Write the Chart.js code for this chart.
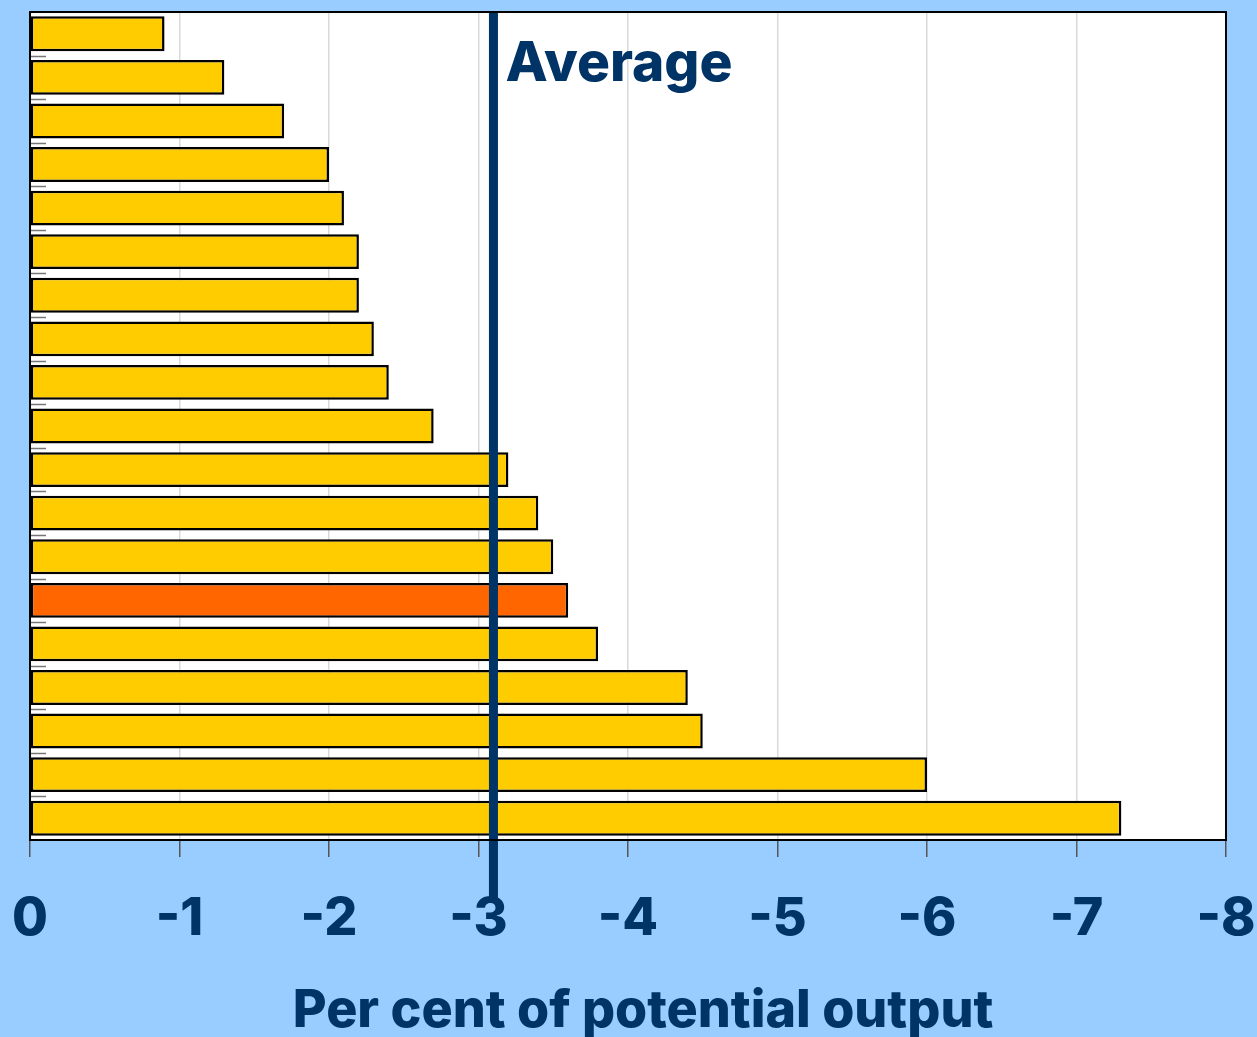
<!DOCTYPE html>
<html>
<head>
<meta charset="utf-8">
<script src="https://cdn.jsdelivr.net/npm/chart.js@4/dist/chart.umd.min.js"></script>
<style>
  html, body { margin: 0; padding: 0; background: #99CCFF; }
  #wrap { width: 1257px; height: 1037px; }
</style>
</head>
<body>
<div id="wrap"><canvas id="c" width="1257" height="1037"></canvas></div>
<script>
// Output gap by economy, per cent of potential output (sorted, smallest first)
const categories = ['1','2','3','4','5','6','7','8','9','10','11','12','13','14','15','16','17','18','19'];
const gapValues = [-0.9, -1.3, -1.7, -2.0, -2.1, -2.2, -2.2, -2.3, -2.4, -2.7, -3.2, -3.4, -3.5, -3.6, -3.8, -4.4, -4.5, -6.0, -7.3];
const highlightIndex = [13];
const averageValue = -3.1;
const xTicks = [0, -1, -2, -3, -4, -5, -6, -7, -8];
const axisTitle = 'Per cent of potential output';
const averageLabel = 'Average';

const NAVY = '#003366';
const YELLOW = '#FFCC00';
const ORANGE = '#FF6600';
const FONT = 'Inter, Lato, sans-serif';

const barColors = gapValues.map((v, i) => highlightIndex.includes(i) ? ORANGE : YELLOW);

const frame = {
  id: 'frame',
  beforeDraw(chart) {
    const { ctx, chartArea: a } = chart;
    ctx.save();
    ctx.fillStyle = '#99CCFF';
    ctx.fillRect(0, 0, chart.width, chart.height);
    ctx.fillStyle = '#FFFFFF';
    ctx.fillRect(a.left, a.top, a.right - a.left, a.bottom - a.top);
    ctx.restore();
  },
  afterDatasetsDraw(chart) {
    const { ctx, chartArea: a, scales } = chart;
    ctx.save();
    // short category ticks along the left edge
    const y = scales.y;
    ctx.strokeStyle = '#777';
    ctx.lineWidth = 1.5;
    for (let i = 1; i < categories.length; i++) {
      const yy = (y.getPixelForValue(i - 1) + y.getPixelForValue(i)) / 2;
      ctx.beginPath();
      ctx.moveTo(a.left, Math.round(yy) + 0.5);
      ctx.lineTo(a.left + 16, Math.round(yy) + 0.5);
      ctx.stroke();
    }
    // average line
    const x = scales.x.getPixelForValue(averageValue);
    ctx.strokeStyle = NAVY;
    ctx.lineWidth = 9;
    ctx.beginPath();
    ctx.moveTo(x, a.top);
    ctx.lineTo(x, a.bottom + 60);
    ctx.stroke();
    ctx.fillStyle = NAVY;
    ctx.font = '800 55px ' + FONT;
    ctx.textBaseline = 'alphabetic';
    ctx.textAlign = 'left';
    ctx.fillText(averageLabel, x + 12, 81);
    // axis title
    ctx.font = '800 52px ' + FONT;
    ctx.textAlign = 'center';
    ctx.fillText(axisTitle, (a.left + a.right) / 2 + 15, 1027);
    // plot border
    ctx.strokeStyle = '#000';
    ctx.lineWidth = 2;
    ctx.strokeRect(a.left, a.top, a.right - a.left, a.bottom - a.top);
    ctx.restore();
  }
};

new Chart(document.getElementById('c'), {
  type: 'bar',
  data: {
    labels: categories,
    datasets: [{
      data: gapValues,
      backgroundColor: barColors,
      borderColor: '#000',
      borderWidth: 2.5,
      borderSkipped: false,
      barPercentage: 0.8,
      categoryPercentage: 1.0
    }]
  },
  options: {
    indexAxis: 'y',
    responsive: false,
    animation: false,
    devicePixelRatio: 1,
    layout: { padding: { left: 30, top: 12, right: 31, bottom: 0 } },
    plugins: { legend: { display: false }, tooltip: { enabled: false } },
    scales: {
      x: {
        min: -8,
        max: 0,
        reverse: true,
        afterBuildTicks(scale) { scale.ticks = xTicks.map(v => ({ value: v })); },
        afterFit(scale) {
          scale.paddingLeft = 0;
          scale.paddingRight = 0;
          scale.height = 197;
        },
        grid: { color: '#D9D9D9', lineWidth: 1.5, tickColor: '#555', tickLength: 17, drawOnChartArea: true },
        border: { display: false },
        ticks: {
          color: NAVY,
          font: { family: FONT, size: 52, weight: '800' },
          padding: 31,
          maxRotation: 0
        },
        title: { display: false }
      },
      y: {
        display: false,
        offset: true
      }
    }
  },
  plugins: [frame]
});
</script>
</body>
</html>
